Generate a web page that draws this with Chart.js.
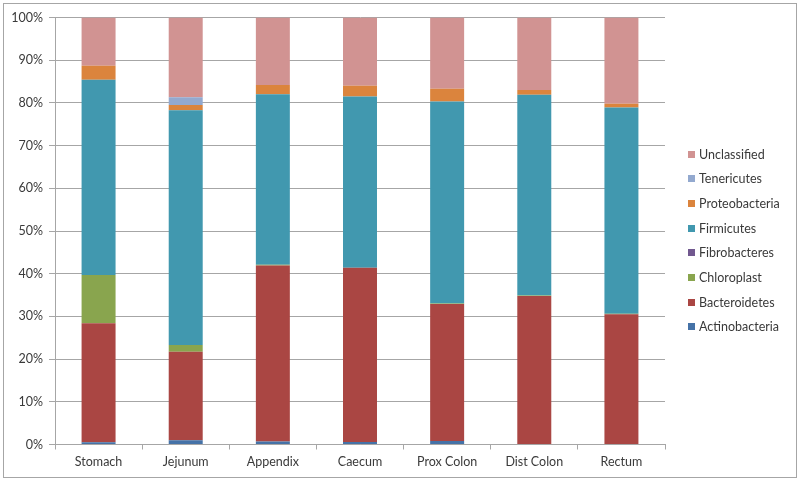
<!DOCTYPE html>
<html>
<head>
<meta charset="utf-8">
<script src="https://cdn.jsdelivr.net/npm/chart.js@4"></script>
<style>
html,body{margin:0;padding:0;background:#fff;}
#wrap{width:800px;height:483px;position:relative;}
</style>
</head>
<body>
<div id="wrap"><canvas id="c" width="800" height="483"></canvas></div>
<script>
const categories = ["Stomach","Jejunum","Appendix","Caecum","Prox Colon","Dist Colon","Rectum"];
const actinobacteria = [0.5, 1.0, 0.7, 0.6, 0.8, 0.1, 0.1];
const bacteroidetes  = [27.9, 20.7, 41.2, 40.8, 32.1, 34.7, 30.4];
const chloroplast    = [11.3, 1.6, 0.2, 0.0, 0.1, 0.1, 0.1];
const fibrobacteres  = [0, 0, 0, 0, 0, 0, 0];
const firmicutes     = [45.7, 55.0, 39.9, 40.1, 47.3, 47.0, 48.3];
const proteobacteria = [3.3, 1.2, 2.2, 2.5, 3.0, 1.1, 0.9];
const tenericutes    = [0, 1.8, 0, 0, 0, 0, 0];
const unclassified   = [11.3, 18.7, 15.8, 16.0, 16.7, 17.0, 20.2];
const yTicks = [0,10,20,30,40,50,60,70,80,90,100];

const seriesNames = ["Actinobacteria","Bacteroidetes","Chloroplast","Fibrobacteres","Firmicutes","Proteobacteria","Tenericutes","Unclassified"];
const seriesData = [actinobacteria,bacteroidetes,chloroplast,fibrobacteres,firmicutes,proteobacteria,tenericutes,unclassified];
const colors = ["#4572A7","#AA4643","#89A54E","#71588F","#4198AF","#DB843D","#93A9CF","#D19392"];

const FONT = "Lato, 'Open Sans', sans-serif";
const TXT = "#3a3a3a";

const frame = {
  id:'frame',
  afterDraw(chart){
    const ctx = chart.ctx;
    ctx.save();
    ctx.strokeStyle = "#a6a6a6";
    ctx.lineWidth = 1;
    ctx.strokeRect(3.5,3.5,793,474);
    // legend (reverse order)
    const ds = chart.data.datasets;
    ctx.font = "12.5px " + FONT;
    ctx.textBaseline = "middle";
    ctx.textAlign = "left";
    for (let i = 0; i < ds.length; i++) {
      const d = ds[ds.length-1-i];
      const yc = 154 + i*24.7;
      ctx.fillStyle = d.backgroundColor;
      ctx.fillRect(688, Math.round(yc-3.5), 7, 7);
      ctx.fillStyle = TXT;
      ctx.fillText(d.label, 699, yc+0.5);
    }
    ctx.restore();
  }
};

new Chart(document.getElementById('c'), {
  type:'bar',
  data:{
    labels: categories,
    datasets: seriesNames.map((n,i)=>({
      label:n, data:seriesData[i], backgroundColor:colors[i],
      borderWidth:0, categoryPercentage:1.0, barPercentage:0.39
    }))
  },
  options:{
    responsive:false, animation:false, devicePixelRatio:1,
    layout:{padding:{left:0,top:17.5,right:135,bottom:0}},
    plugins:{legend:{display:false}, tooltip:{enabled:false}},
    scales:{
      x:{
        stacked:true,
        grid:{display:true, drawOnChartArea:false, drawTicks:true, tickLength:5, offset:true, color:"#a6a6a6"},
        border:{display:true, color:"#a6a6a6"},
        ticks:{font:{family:FONT,size:12.5}, color:TXT, padding:5, maxRotation:0},
        afterFit(s){ s.height = 38.5; }
      },
      y:{
        stacked:true, min:0, max:100,
        afterBuildTicks(s){ s.ticks = yTicks.map(v=>({value:v})); },
        grid:{color:"#a6a6a6", tickLength:6, drawTicks:true},
        border:{display:true, color:"#a6a6a6"},
        ticks:{font:{family:FONT,size:12.5}, color:TXT, padding:6, callback:v=>v+'%'},
        afterFit(s){ s.width = 55; }
      }
    }
  },
  plugins:[frame]
});
</script>
</body>
</html>
